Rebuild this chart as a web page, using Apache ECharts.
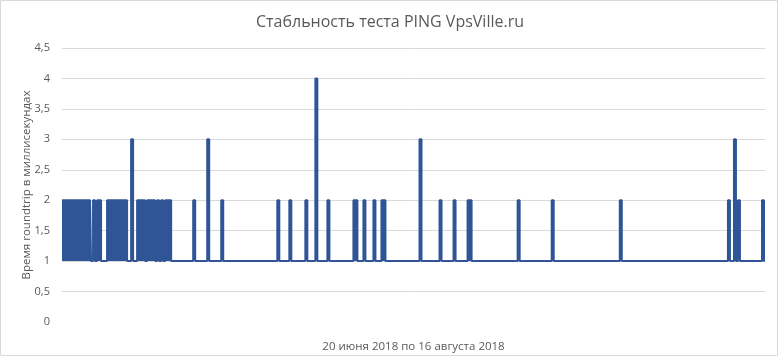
<!DOCTYPE html>
<html>
<head>
<meta charset="utf-8">
<script src="https://cdn.jsdelivr.net/npm/echarts@6/dist/echarts.min.js"></script>
<style>
html,body{margin:0;padding:0;background:#fff;}
#c{width:780px;height:357px;}
</style>
</head>
<body>
<div id="c"></div>
<script>
const titleText = 'Стабльность теста PING VpsVille.ru';
const yAxisName = 'Время roundtrip в миллисекундах';
const xAxisName = '20 июня 2018 по 16 августа 2018';
const yTicks = { min: 0, max: 4.5, interval: 0.5 };

// ping samples (ms), in time order
const pingValues = [
  2,2,2,2,2,2,2,2,2,2,
  2,2,2,2,2,1,2,1,2,2,
  1,1,1,2,2,2,2,2,2,2,
  2,2,2,1,1,3,1,1,2,2,
  2,2,1,2,2,2,2,1,2,1,
  2,1,2,2,2,1,1,1,1,1,
  1,1,1,1,1,1,2,1,1,1,
  1,1,1,3,1,1,1,1,1,1,
  2,1,1,1,1,1,1,1,1,1,
  1,1,1,1,1,1,1,1,1,1,
  1,1,1,1,1,1,1,1,2,1,
  1,1,1,1,2,1,1,1,1,1,
  1,1,2,1,1,1,1,4,1,1,
  1,1,1,2,1,1,1,1,1,1,
  1,1,1,1,1,1,2,2,1,1,
  1,2,1,1,1,1,2,1,1,1,
  2,2,1,1,1,1,1,1,1,1,
  1,1,1,1,1,1,1,1,1,3,
  1,1,1,1,1,1,1,1,1,2,
  1,1,1,1,1,1,2,1,1,1,
  1,1,1,2,2,1,1,1,1,1,
  1,1,1,1,1,1,1,1,1,1,
  1,1,1,1,1,1,1,1,2,1,
  1,1,1,1,1,1,1,1,1,1,
  1,1,1,1,1,2,1,1,1,1,
  1,1,1,1,1,1,1,1,1,1,
  1,1,1,1,1,1,1,1,1,1,
  1,1,1,1,1,1,1,1,1,2,
  1,1,1,1,1,1,1,1,1,1,
  1,1,1,1,1,1,1,1,1,1,
  1,1,1,1,1,1,1,1,1,1,
  1,1,1,1,1,1,1,1,1,1,
  1,1,1,1,1,1,1,1,1,1,
  1,1,1,2,1,1,3,1,2,1,
  1,1,1,1,1,1,1,1,1,1,
  2,1
];

const lineColor = '#2f5597';
const chart = echarts.init(document.getElementById('c'), null, {renderer: 'canvas'});
const font = 'Open Sans, DejaVu Sans, sans-serif';
chart.setOption({
  animation: false,
  backgroundColor: '#ffffff',
  textStyle: { fontFamily: font },
  title: {
    text: titleText,
    left: 'center',
    top: 9,
    textStyle: { fontSize: 16, fontWeight: 'normal', color: '#595959', fontFamily: font }
  },
  graphic: [{
    type: 'rect',
    shape: { x: 0.5, y: 0.5, width: 777, height: 355 },
    style: { fill: 'none', stroke: '#d9d9d9', lineWidth: 1 },
    silent: true
  }],
  grid: { left: 62, right: 15, top: 48, bottom: 35, outerBoundsMode: 'none', containLabel: false },
  xAxis: {
    type: 'category',
    boundaryGap: false,
    name: xAxisName,
    nameLocation: 'middle',
    nameGap: 19,
    nameTextStyle: { fontSize: 11.5, color: '#595959', fontFamily: font },
    axisLine: { show: false },
    axisTick: { show: false },
    axisLabel: { show: false },
    splitLine: { show: false }
  },
  yAxis: {
    type: 'value',
    min: yTicks.min,
    max: yTicks.max,
    interval: yTicks.interval,
    name: yAxisName,
    nameLocation: 'middle',
    nameGap: 29,
    nameMoveOverlap: false,
    nameRotate: 90,
    nameTextStyle: { fontSize: 11.5, color: '#595959', fontFamily: font },
    axisLine: { show: false },
    axisTick: { show: false },
    axisLabel: {
      fontSize: 11,
      color: '#595959',
      margin: 12,
      formatter: v => String(v).replace('.', ',')
    },
    splitLine: { show: true, showMinLine: false, lineStyle: { color: '#d9d9d9', width: 1 } }
  },
  series: [{
    type: 'line',
    data: pingValues,
    step: 'middle',
    showSymbol: false,
    symbol: 'none',
    lineStyle: { color: lineColor, width: 2 },
    areaStyle: { origin: 1, color: lineColor, opacity: 1 },
    itemStyle: { color: lineColor }
  }]
});
</script>
</body>
</html>
